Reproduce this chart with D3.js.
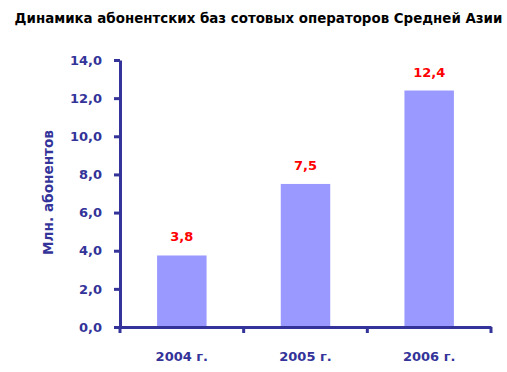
<!DOCTYPE html>
<html>
<head>
<meta charset="utf-8">
<script src="https://cdn.jsdelivr.net/npm/d3@7"></script>
<style>
  body { margin: 0; background: #fff; }
  text { font-family: Tahoma, "DejaVu Sans", sans-serif; font-weight: bold; }
</style>
</head>
<body>
<div id="chart"></div>
<script>
// Chart data
const years = ["2004 г.", "2005 г.", "2006 г."];
const subscribers = [3.75, 7.5, 12.4];
const yTicks = [0, 2, 4, 6, 8, 10, 12, 14];

const width = 507;
const height = 372;
const margin = { top: 60, right: 16, bottom: 45, left: 120 };

const svg = d3.select("#chart")
    .append("svg")
    .attr("width", width)
    .attr("height", height);

const x = d3.scaleBand()
    .domain(years)
    .range([margin.left, width - margin.right])
    .paddingInner(0.6)
    .paddingOuter(0.3);

const y = d3.scaleLinear()
    .domain([0, 14])
    .range([height - margin.bottom, margin.top]);

const axisColor = "#333399";
const fmt = v => v.toFixed(1).replace(".", ",");

// Title
svg.append("text")
    .attr("x", 258.5)
    .attr("y", 23)
    .attr("text-anchor", "middle")
    .attr("font-size", 13.4)
    .attr("fill", "#000")
    .text("Динамика абонентских баз сотовых операторов Средней Азии");

// Bars
svg.selectAll(".bar")
    .data(subscribers)
    .enter()
    .append("rect")
    .attr("class", "bar")
    .attr("x", (d, i) => x(years[i]))
    .attr("y", d => y(d))
    .attr("width", x.bandwidth())
    .attr("height", d => y(0) - y(d))
    .attr("fill", "#9999ff");

// Value labels
svg.selectAll(".val")
    .data(subscribers)
    .enter()
    .append("text")
    .attr("class", "val")
    .attr("x", (d, i) => x(years[i]) + x.bandwidth() / 2)
    .attr("y", d => y(d) - 14)
    .attr("text-anchor", "middle")
    .attr("font-size", 13)
    .attr("fill", "#ff0000")
    .text(fmt);

// Y axis
const yAxis = svg.append("g")
    .attr("transform", `translate(${margin.left},0)`)
    .call(d3.axisLeft(y).tickValues(yTicks).tickFormat(fmt).tickSize(6).tickSizeOuter(0).tickPadding(12));

// X axis (ticks between categories)
const step = x.step();
const xAxis = svg.append("g")
    .attr("transform", `translate(0,${y(0)})`)
    .call(d3.axisBottom(x).tickSize(0).tickPadding(25));

xAxis.selectAll(".sep")
    .data(d3.range(years.length + 1))
    .enter()
    .append("line")
    .attr("class", "sep")
    .attr("x1", i => margin.left + i * step)
    .attr("x2", i => margin.left + i * step)
    .attr("y1", 0)
    .attr("y2", 6);

[yAxis, xAxis].forEach(g => {
    g.selectAll("path").attr("stroke", axisColor).attr("stroke-width", 3);
    g.selectAll("line").attr("stroke", axisColor).attr("stroke-width", 3);
    g.selectAll("text")
        .attr("fill", axisColor)
        .attr("font-size", 13)
        .attr("font-family", "Tahoma, 'DejaVu Sans', sans-serif")
        .attr("font-weight", "bold");
});

// Y axis title
svg.append("text")
    .attr("transform", `translate(53,192.5) rotate(-90)`)
    .attr("text-anchor", "middle")
    .attr("font-size", 14)
    .attr("textLength", 125)
    .attr("lengthAdjust", "spacingAndGlyphs")
    .attr("fill", axisColor)
    .text("Млн. абонентов");
</script>
</body>
</html>
